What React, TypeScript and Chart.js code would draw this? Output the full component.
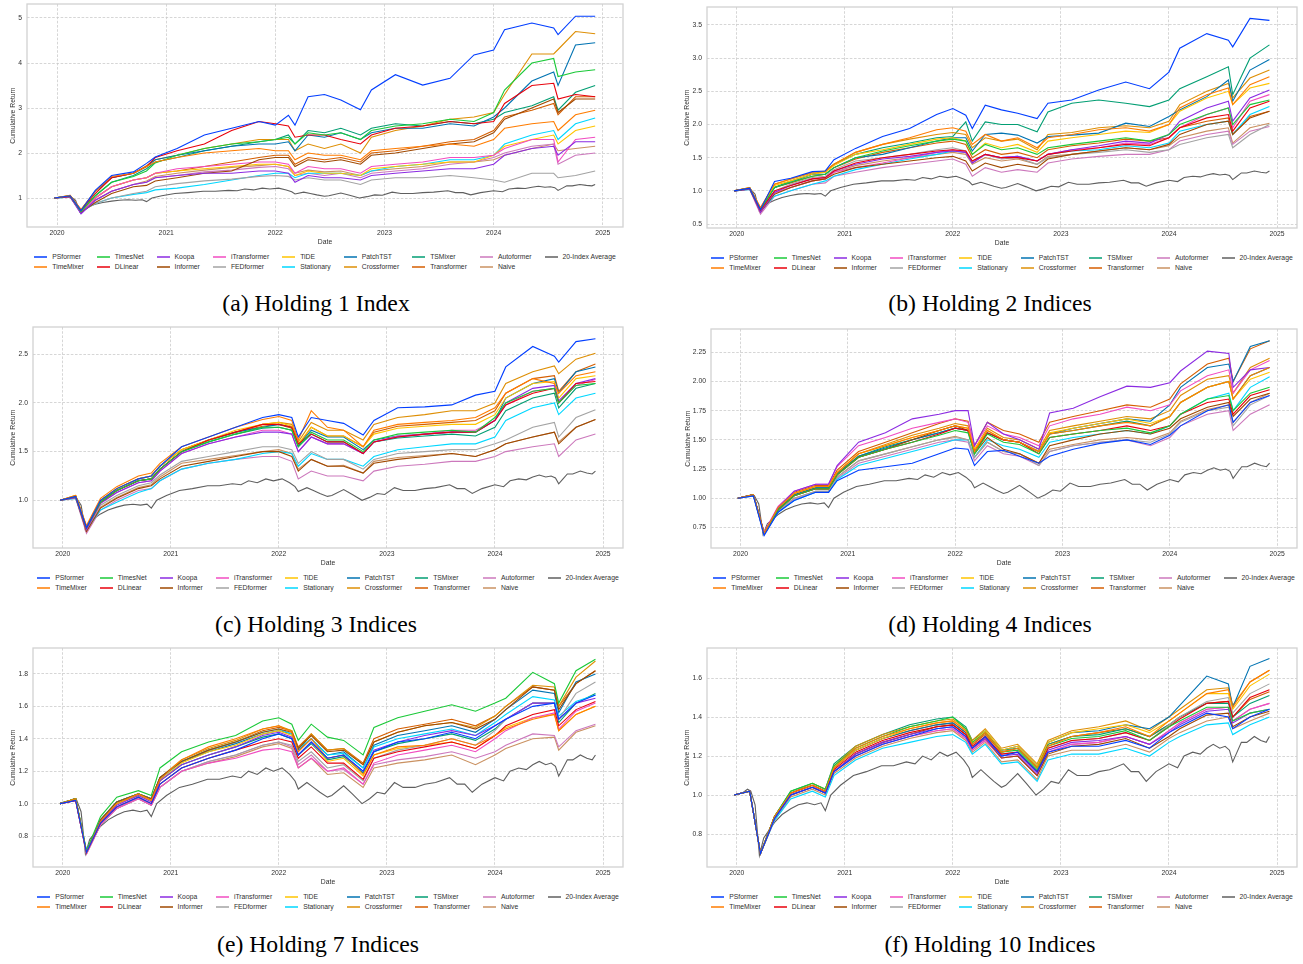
import React, { useEffect, useRef } from "react";
import { Chart, registerables } from "chart.js";
Chart.register(...registerables);

// ---------------- data ----------------
const T = [2019.975, 2020.12, 2020.22, 2020.35, 2020.5, 2020.7, 2020.82, 2020.9, 2021.1, 2021.35, 2021.6, 2021.85, 2022.0, 2022.12, 2022.18, 2022.3, 2022.45, 2022.6, 2022.78, 2022.88, 2023.1, 2023.35, 2023.6, 2023.82, 2024.0, 2024.1, 2024.35, 2024.55, 2024.59, 2024.75, 2024.93];

const MODELS = ["PSformer", "TimeMixer", "TimesNet", "DLinear", "Koopa", "Informer", "iTransformer", "FEDformer", "TiDE", "Stationary", "PatchTST", "Crossformer", "TSMixer", "Transformer", "Autoformer", "Naive", "20-Index Average"];
const COLORS = ["#023eff", "#ff7c00", "#1ac938", "#e8000b", "#8b2be2", "#9f4800", "#f14cc1", "#a3a3a3", "#ffc400", "#00d7ff", "#0173b2", "#de8f05", "#029e73", "#d55e00", "#cc78bc", "#ca9161", "#5f5f5f"];

const X_TICKS = [2020, 2021, 2022, 2023, 2024, 2025];
const X_TICK_LABELS = ["2020", "2021", "2022", "2023", "2024", "2025"];

const Y1_TICKS = [1, 2, 3, 4, 5];
const Y1_LABELS = ["1", "2", "3", "4", "5"];
const Y2_TICKS = [0.5, 1.0, 1.5, 2.0, 2.5, 3.0, 3.5];
const Y2_LABELS = ["0.5", "1.0", "1.5", "2.0", "2.5", "3.0", "3.5"];
const Y3_TICKS = [1.0, 1.5, 2.0, 2.5];
const Y3_LABELS = ["1.0", "1.5", "2.0", "2.5"];
const Y4_TICKS = [0.75, 1.0, 1.25, 1.5, 1.75, 2.0, 2.25];
const Y4_LABELS = ["0.75", "1.00", "1.25", "1.50", "1.75", "2.00", "2.25"];
const Y7_TICKS = [0.8, 1.0, 1.2, 1.4, 1.6, 1.8];
const Y7_LABELS = ["0.8", "1.0", "1.2", "1.4", "1.6", "1.8"];
const Y10_TICKS = [0.8, 1.0, 1.2, 1.4, 1.6];
const Y10_LABELS = ["0.8", "1.0", "1.2", "1.4", "1.6"];

// 20-Index Average (same benchmark in every panel), read on its own finer date grid
const T_INDEX = [2019.975, 2020.05, 2020.1, 2020.13, 2020.17, 2020.21, 2020.25, 2020.3, 2020.35, 2020.42, 2020.5, 2020.57, 2020.65, 2020.72, 2020.78, 2020.82, 2020.87, 2020.96, 2021.08, 2021.2, 2021.34, 2021.45, 2021.57, 2021.65, 2021.72, 2021.8, 2021.88, 2021.95, 2022.03, 2022.1, 2022.15, 2022.18, 2022.26, 2022.32, 2022.38, 2022.45, 2022.49, 2022.6, 2022.68, 2022.77, 2022.84, 2022.91, 2022.98, 2023.07, 2023.15, 2023.26, 2023.35, 2023.45, 2023.58, 2023.65, 2023.72, 2023.79, 2023.88, 2024.0, 2024.08, 2024.14, 2024.22, 2024.29, 2024.35, 2024.41, 2024.47, 2024.52, 2024.56, 2024.59, 2024.63, 2024.67, 2024.72, 2024.79, 2024.85, 2024.9, 2024.93];
const INDEX_AVG = [1.0, 1.01, 1.03, 1.02, 0.95, 0.69, 0.78, 0.82, 0.86, 0.9, 0.93, 0.95, 0.96, 0.95, 0.96, 0.92, 1.0, 1.05, 1.1, 1.12, 1.15, 1.15, 1.17, 1.16, 1.2, 1.18, 1.22, 1.2, 1.22, 1.18, 1.14, 1.09, 1.13, 1.1, 1.07, 1.04, 1.05, 1.11, 1.06, 1.0, 1.03, 1.07, 1.06, 1.13, 1.1, 1.1, 1.12, 1.13, 1.16, 1.12, 1.12, 1.07, 1.12, 1.16, 1.14, 1.2, 1.22, 1.21, 1.24, 1.26, 1.24, 1.25, 1.23, 1.17, 1.22, 1.27, 1.27, 1.3, 1.28, 1.27, 1.3];

// (a) Holding 1 Index
const H1_PSformer = [1.0, 1.05, 0.72, 1.17, 1.5, 1.58, 1.77, 1.91, 2.1, 2.4, 2.55, 2.7, 2.62, 2.84, 2.62, 3.25, 3.3, 3.18, 2.96, 3.4, 3.74, 3.51, 3.66, 4.18, 4.29, 4.74, 4.89, 4.78, 4.63, 5.04, 5.04];
const H1_TimeMixer = [1.0, 1.06, 0.75, 1.15, 1.48, 1.55, 1.7, 1.8, 1.9, 2.0, 2.05, 2.1, 2.05, 2.05, 1.85, 2.0, 1.95, 1.95, 1.85, 2.05, 2.1, 2.15, 2.2, 2.15, 2.3, 2.55, 2.65, 2.7, 2.5, 2.85, 2.95];
const H1_TimesNet = [1.0, 1.05, 0.7, 1.05, 1.35, 1.48, 1.6, 1.78, 1.95, 2.1, 2.2, 2.25, 2.3, 2.35, 2.2, 2.45, 2.4, 2.45, 2.3, 2.5, 2.6, 2.65, 2.75, 2.7, 2.9, 3.4, 4.0, 4.1, 3.7, 3.8, 3.85];
const H1_DLinear = [1.0, 1.04, 0.72, 1.1, 1.45, 1.55, 1.7, 1.9, 2.05, 2.2, 2.5, 2.7, 2.65, 2.6, 2.35, 2.4, 2.4, 2.3, 2.2, 2.4, 2.55, 2.6, 2.7, 2.65, 2.7, 3.1, 3.5, 3.55, 3.2, 3.3, 3.25];
const H1_Koopa = [1.0, 1.03, 0.65, 0.95, 1.15, 1.3, 1.35, 1.45, 1.5, 1.55, 1.55, 1.6, 1.6, 1.55, 1.35, 1.5, 1.45, 1.45, 1.4, 1.5, 1.55, 1.6, 1.65, 1.65, 1.75, 1.95, 2.1, 2.15, 1.95, 2.25, 2.25];
const H1_Informer = [1.0, 1.03, 0.68, 0.9, 1.1, 1.25, 1.28, 1.38, 1.45, 1.55, 1.6, 1.85, 1.9, 1.9, 1.7, 1.85, 1.8, 1.85, 1.75, 1.95, 2.0, 2.1, 2.2, 2.25, 2.45, 2.75, 3.0, 3.2, 2.9, 3.2, 3.2];
const H1_iTransformer = [1.0, 1.04, 0.68, 1.0, 1.25, 1.4, 1.45, 1.55, 1.65, 1.7, 1.75, 1.8, 1.8, 1.75, 1.55, 1.7, 1.65, 1.65, 1.55, 1.7, 1.75, 1.8, 1.9, 1.9, 1.95, 2.1, 2.3, 2.3, 1.8, 2.3, 2.35];
const H1_FEDformer = [1.0, 1.02, 0.7, 0.88, 1.0, 1.1, 1.15, 1.25, 1.32, 1.38, 1.42, 1.48, 1.5, 1.48, 1.4, 1.45, 1.4, 1.4, 1.3, 1.4, 1.45, 1.45, 1.5, 1.45, 1.4, 1.35, 1.55, 1.55, 1.45, 1.5, 1.6];
const H1_TiDE = [1.0, 1.05, 0.72, 1.0, 1.25, 1.4, 1.45, 1.55, 1.6, 1.65, 1.7, 1.75, 1.75, 1.7, 1.5, 1.6, 1.55, 1.55, 1.5, 1.65, 1.7, 1.75, 1.8, 1.8, 1.95, 2.15, 2.3, 2.4, 2.2, 2.5, 2.6];
const H1_Stationary = [1.0, 1.02, 0.7, 0.88, 1.0, 1.08, 1.12, 1.18, 1.22, 1.3, 1.4, 1.5, 1.55, 1.55, 1.45, 1.55, 1.55, 1.55, 1.5, 1.6, 1.7, 1.75, 1.85, 1.85, 1.95, 2.2, 2.4, 2.5, 2.3, 2.65, 2.78];
const H1_PatchTST = [1.0, 1.05, 0.73, 1.15, 1.45, 1.55, 1.7, 1.85, 1.95, 2.05, 2.15, 2.2, 2.2, 2.25, 2.05, 2.4, 2.35, 2.45, 2.3, 2.45, 2.55, 2.55, 2.65, 2.6, 2.8, 3.0, 3.6, 3.8, 3.5, 4.4, 4.45];
const H1_Crossformer = [1.0, 1.06, 0.73, 1.15, 1.45, 1.55, 1.72, 1.85, 1.95, 2.1, 2.2, 2.3, 2.3, 2.3, 2.05, 2.2, 2.1, 2.2, 2.0, 2.35, 2.5, 2.6, 2.75, 2.8, 2.9, 3.3, 4.2, 4.2, 4.3, 4.7, 4.65];
const H1_TSMixer = [1.0, 1.04, 0.7, 1.05, 1.35, 1.5, 1.65, 1.8, 1.9, 2.05, 2.15, 2.25, 2.3, 2.4, 2.2, 2.5, 2.45, 2.55, 2.4, 2.55, 2.65, 2.6, 2.7, 2.65, 2.75, 2.9, 3.05, 3.25, 2.95, 3.35, 3.5];
const H1_Transformer = [1.0, 1.04, 0.7, 1.0, 1.25, 1.4, 1.45, 1.55, 1.6, 1.7, 1.8, 1.9, 1.95, 1.95, 1.75, 1.9, 1.85, 1.9, 1.8, 2.0, 2.05, 2.15, 2.25, 2.3, 2.5, 2.8, 2.95, 3.1, 2.85, 3.25, 3.25];
const H1_Autoformer = [1.0, 1.03, 0.66, 0.95, 1.15, 1.3, 1.35, 1.45, 1.5, 1.58, 1.62, 1.68, 1.7, 1.65, 1.5, 1.55, 1.5, 1.55, 1.45, 1.55, 1.6, 1.65, 1.75, 1.8, 1.9, 2.0, 2.15, 2.2, 1.75, 1.95, 2.0];
const H1_Naive = [1.0, 1.03, 0.68, 0.95, 1.15, 1.3, 1.38, 1.48, 1.55, 1.62, 1.68, 1.72, 1.75, 1.7, 1.55, 1.62, 1.58, 1.6, 1.5, 1.6, 1.65, 1.7, 1.8, 1.8, 1.85, 1.95, 2.1, 2.2, 2.05, 2.1, 2.15];

// (b) Holding 2 Indices
const H2_PSformer = [1.0, 1.04, 0.72, 1.14, 1.19, 1.29, 1.3, 1.47, 1.64, 1.82, 1.94, 2.15, 2.24, 2.14, 1.94, 2.29, 2.22, 2.17, 2.09, 2.32, 2.37, 2.52, 2.64, 2.54, 2.79, 3.15, 3.37, 3.27, 3.17, 3.6, 3.57];
const H2_TimeMixer = [1.0, 1.05, 0.75, 1.1, 1.18, 1.28, 1.3, 1.4, 1.58, 1.7, 1.8, 1.92, 1.95, 1.9, 1.7, 1.85, 1.75, 1.8, 1.65, 1.8, 1.85, 1.92, 1.95, 1.9, 2.0, 2.25, 2.45, 2.55, 2.3, 2.6, 2.72];
const H2_TimesNet = [1.0, 1.04, 0.72, 1.05, 1.13, 1.22, 1.25, 1.35, 1.5, 1.6, 1.68, 1.75, 1.78, 1.75, 1.55, 1.7, 1.62, 1.65, 1.55, 1.65, 1.7, 1.75, 1.8, 1.75, 1.85, 2.0, 2.15, 2.25, 2.0, 2.3, 2.37];
const H2_DLinear = [1.0, 1.04, 0.71, 1.0, 1.08, 1.18, 1.2, 1.3, 1.42, 1.5, 1.55, 1.6, 1.62, 1.6, 1.45, 1.55, 1.5, 1.5, 1.45, 1.55, 1.6, 1.65, 1.7, 1.68, 1.8, 1.95, 2.1, 2.15, 1.9, 2.25, 2.35];
const H2_Koopa = [1.0, 1.03, 0.68, 0.98, 1.08, 1.18, 1.2, 1.3, 1.4, 1.48, 1.52, 1.58, 1.6, 1.58, 1.42, 1.55, 1.5, 1.52, 1.45, 1.55, 1.62, 1.68, 1.75, 1.72, 1.85, 2.05, 2.25, 2.35, 2.05, 2.4, 2.52];
const H2_Informer = [1.0, 1.03, 0.68, 0.95, 1.05, 1.15, 1.18, 1.25, 1.35, 1.4, 1.45, 1.5, 1.52, 1.45, 1.3, 1.42, 1.35, 1.4, 1.35, 1.48, 1.55, 1.6, 1.65, 1.62, 1.7, 1.85, 2.0, 2.05, 1.85, 2.1, 2.2];
const H2_iTransformer = [1.0, 1.03, 0.68, 0.97, 1.05, 1.15, 1.18, 1.28, 1.35, 1.42, 1.5, 1.58, 1.62, 1.58, 1.42, 1.55, 1.5, 1.52, 1.45, 1.55, 1.62, 1.65, 1.72, 1.7, 1.8, 1.95, 2.15, 2.25, 1.95, 2.35, 2.45];
const H2_FEDformer = [1.0, 1.03, 0.7, 1.0, 1.1, 1.2, 1.22, 1.32, 1.45, 1.5, 1.55, 1.62, 1.65, 1.6, 1.45, 1.55, 1.48, 1.5, 1.4, 1.5, 1.55, 1.58, 1.62, 1.58, 1.62, 1.7, 1.8, 1.85, 1.65, 1.85, 2.0];
const H2_TiDE = [1.0, 1.05, 0.73, 1.08, 1.15, 1.25, 1.28, 1.38, 1.55, 1.62, 1.7, 1.78, 1.8, 1.75, 1.55, 1.72, 1.65, 1.7, 1.58, 1.75, 1.8, 1.85, 1.9, 1.88, 2.0, 2.2, 2.4, 2.5, 2.3, 2.55, 2.62];
const H2_Stationary = [1.0, 1.02, 0.7, 0.92, 1.0, 1.1, 1.15, 1.22, 1.32, 1.4, 1.48, 1.55, 1.6, 1.58, 1.42, 1.55, 1.5, 1.52, 1.45, 1.55, 1.6, 1.62, 1.68, 1.65, 1.72, 1.9, 2.0, 2.05, 1.85, 2.15, 2.27];
const H2_PatchTST = [1.0, 1.04, 0.72, 1.05, 1.13, 1.25, 1.25, 1.35, 1.5, 1.55, 1.65, 1.75, 1.8, 1.8, 1.6, 1.85, 1.87, 1.84, 1.72, 1.82, 1.84, 1.87, 2.02, 1.97, 2.12, 2.22, 2.42, 2.67, 2.35, 2.82, 2.98];
const H2_Crossformer = [1.0, 1.05, 0.74, 1.1, 1.18, 1.27, 1.28, 1.4, 1.58, 1.7, 1.78, 1.85, 1.88, 1.85, 1.65, 1.8, 1.75, 1.78, 1.62, 1.85, 1.88, 1.95, 1.98, 1.95, 2.05, 2.3, 2.5, 2.62, 2.4, 2.7, 2.82];
const H2_TSMixer = [1.0, 1.04, 0.72, 1.05, 1.15, 1.25, 1.3, 1.4, 1.55, 1.65, 1.72, 1.8, 1.82, 2.04, 1.75, 2.04, 2.0, 2.0, 1.89, 2.19, 2.32, 2.37, 2.32, 2.27, 2.37, 2.54, 2.72, 2.87, 2.45, 3.0, 3.2];
const H2_Transformer = [1.0, 1.04, 0.72, 1.05, 1.12, 1.22, 1.25, 1.35, 1.48, 1.58, 1.65, 1.72, 1.75, 1.7, 1.5, 1.62, 1.55, 1.58, 1.5, 1.62, 1.68, 1.72, 1.78, 1.75, 1.8, 1.95, 2.05, 2.1, 1.85, 2.12, 2.2];
const H2_Autoformer = [1.0, 1.02, 0.65, 0.92, 1.0, 1.1, 1.12, 1.22, 1.28, 1.35, 1.4, 1.45, 1.48, 1.4, 1.22, 1.35, 1.28, 1.32, 1.28, 1.42, 1.48, 1.52, 1.55, 1.55, 1.62, 1.75, 1.85, 1.9, 1.7, 1.9, 1.97];
const H2_Naive = [1.0, 1.03, 0.68, 0.97, 1.05, 1.15, 1.18, 1.28, 1.38, 1.45, 1.5, 1.55, 1.58, 1.55, 1.4, 1.5, 1.45, 1.48, 1.4, 1.52, 1.55, 1.6, 1.65, 1.62, 1.68, 1.8, 1.9, 1.95, 1.72, 1.95, 2.02];

// (c) Holding 3 Indices
const H3_PSformer = [1.0, 1.04, 0.72, 1.0, 1.12, 1.22, 1.25, 1.35, 1.55, 1.65, 1.75, 1.85, 1.88, 1.85, 1.65, 1.85, 1.82, 1.79, 1.67, 1.82, 1.95, 1.96, 1.98, 2.08, 2.12, 2.37, 2.58, 2.48, 2.42, 2.63, 2.66];
const H3_TimeMixer = [1.0, 1.05, 0.74, 1.02, 1.14, 1.25, 1.28, 1.38, 1.55, 1.65, 1.75, 1.83, 1.86, 1.82, 1.62, 1.92, 1.75, 1.72, 1.55, 1.72, 1.78, 1.8, 1.82, 1.85, 1.95, 2.1, 2.25, 2.2, 2.1, 2.28, 2.32];
const H3_TimesNet = [1.0, 1.04, 0.72, 0.98, 1.1, 1.2, 1.22, 1.32, 1.5, 1.6, 1.68, 1.75, 1.75, 1.72, 1.55, 1.7, 1.62, 1.62, 1.5, 1.62, 1.68, 1.7, 1.72, 1.7, 1.85, 2.0, 2.12, 2.15, 2.0, 2.18, 2.2];
const H3_DLinear = [1.0, 1.04, 0.72, 0.98, 1.1, 1.2, 1.22, 1.32, 1.5, 1.62, 1.7, 1.78, 1.78, 1.75, 1.58, 1.68, 1.6, 1.6, 1.48, 1.6, 1.65, 1.68, 1.7, 1.7, 1.82, 1.98, 2.1, 2.15, 2.0, 2.2, 2.22];
const H3_Koopa = [1.0, 1.03, 0.7, 0.97, 1.08, 1.18, 1.2, 1.3, 1.48, 1.58, 1.65, 1.7, 1.7, 1.68, 1.5, 1.65, 1.58, 1.58, 1.48, 1.6, 1.65, 1.68, 1.7, 1.7, 1.82, 2.0, 2.15, 2.18, 2.02, 2.2, 2.25];
const H3_Informer = [1.0, 1.03, 0.68, 0.92, 1.02, 1.12, 1.15, 1.22, 1.35, 1.4, 1.45, 1.5, 1.5, 1.45, 1.3, 1.42, 1.35, 1.35, 1.28, 1.38, 1.42, 1.45, 1.48, 1.45, 1.52, 1.58, 1.65, 1.7, 1.58, 1.75, 1.83];
const H3_iTransformer = [1.0, 1.03, 0.7, 0.97, 1.08, 1.18, 1.2, 1.3, 1.48, 1.58, 1.65, 1.72, 1.72, 1.68, 1.5, 1.65, 1.58, 1.58, 1.48, 1.6, 1.66, 1.68, 1.72, 1.72, 1.82, 1.98, 2.12, 2.15, 2.0, 2.18, 2.24];
const H3_FEDformer = [1.0, 1.03, 0.7, 0.95, 1.05, 1.15, 1.18, 1.26, 1.4, 1.45, 1.5, 1.55, 1.55, 1.52, 1.38, 1.5, 1.42, 1.42, 1.32, 1.42, 1.48, 1.5, 1.52, 1.52, 1.58, 1.62, 1.75, 1.8, 1.65, 1.85, 1.93];
const H3_TiDE = [1.0, 1.05, 0.73, 1.0, 1.12, 1.22, 1.25, 1.35, 1.52, 1.62, 1.72, 1.78, 1.8, 1.76, 1.58, 1.75, 1.66, 1.66, 1.55, 1.68, 1.74, 1.76, 1.78, 1.78, 1.88, 2.05, 2.2, 2.22, 2.05, 2.25, 2.28];
const H3_Stationary = [1.0, 1.02, 0.7, 0.9, 0.98, 1.08, 1.12, 1.2, 1.32, 1.38, 1.42, 1.48, 1.5, 1.48, 1.35, 1.48, 1.42, 1.42, 1.35, 1.45, 1.52, 1.55, 1.58, 1.58, 1.65, 1.82, 1.95, 2.0, 1.88, 2.05, 2.1];
const H3_PatchTST = [1.0, 1.04, 0.72, 1.0, 1.1, 1.2, 1.22, 1.32, 1.5, 1.62, 1.7, 1.75, 1.78, 1.75, 1.56, 1.72, 1.65, 1.65, 1.52, 1.62, 1.66, 1.68, 1.7, 1.7, 1.82, 2.05, 2.2, 2.25, 2.1, 2.32, 2.37];
const H3_Crossformer = [1.0, 1.05, 0.73, 1.0, 1.12, 1.22, 1.25, 1.35, 1.52, 1.62, 1.7, 1.78, 1.8, 1.78, 1.6, 1.8, 1.72, 1.72, 1.62, 1.78, 1.85, 1.88, 1.92, 1.92, 2.0, 2.2, 2.32, 2.38, 2.3, 2.45, 2.51];
const H3_TSMixer = [1.0, 1.04, 0.72, 0.98, 1.1, 1.2, 1.22, 1.32, 1.5, 1.6, 1.68, 1.74, 1.75, 1.72, 1.55, 1.68, 1.6, 1.6, 1.48, 1.6, 1.64, 1.66, 1.68, 1.66, 1.75, 1.92, 2.05, 2.1, 1.95, 2.15, 2.2];
const H3_Transformer = [1.0, 1.04, 0.72, 1.0, 1.12, 1.22, 1.25, 1.35, 1.52, 1.62, 1.7, 1.76, 1.78, 1.74, 1.56, 1.75, 1.66, 1.66, 1.55, 1.7, 1.76, 1.78, 1.8, 1.82, 1.92, 2.1, 2.25, 2.28, 2.12, 2.32, 2.4];
const H3_Autoformer = [1.0, 1.02, 0.66, 0.9, 1.0, 1.1, 1.12, 1.2, 1.32, 1.38, 1.42, 1.45, 1.45, 1.4, 1.22, 1.3, 1.25, 1.25, 1.2, 1.3, 1.35, 1.37, 1.4, 1.4, 1.45, 1.5, 1.55, 1.58, 1.45, 1.62, 1.68];
const H3_Naive = [1.0, 1.03, 0.68, 0.93, 1.03, 1.13, 1.16, 1.24, 1.38, 1.42, 1.46, 1.5, 1.52, 1.48, 1.32, 1.42, 1.35, 1.36, 1.28, 1.4, 1.44, 1.46, 1.48, 1.45, 1.52, 1.58, 1.65, 1.7, 1.6, 1.75, 1.83];

// (d) Holding 4 Indices
const H4_PSformer = [1.0, 1.02, 0.68, 0.88, 0.98, 1.05, 1.05, 1.15, 1.24, 1.27, 1.3, 1.38, 1.43, 1.42, 1.28, 1.4, 1.41, 1.36, 1.3, 1.36, 1.42, 1.47, 1.5, 1.46, 1.54, 1.62, 1.75, 1.8, 1.65, 1.82, 1.88];
const H4_TimeMixer = [1.0, 1.03, 0.7, 0.92, 1.04, 1.1, 1.1, 1.22, 1.38, 1.45, 1.52, 1.58, 1.62, 1.6, 1.4, 1.58, 1.5, 1.48, 1.4, 1.55, 1.58, 1.62, 1.65, 1.62, 1.7, 1.82, 1.95, 2.0, 1.85, 2.05, 2.12];
const H4_TimesNet = [1.0, 1.03, 0.7, 0.9, 1.02, 1.08, 1.08, 1.2, 1.35, 1.42, 1.48, 1.54, 1.58, 1.56, 1.38, 1.55, 1.48, 1.46, 1.38, 1.52, 1.55, 1.58, 1.6, 1.56, 1.62, 1.72, 1.85, 1.88, 1.75, 1.9, 1.95];
const H4_DLinear = [1.0, 1.03, 0.7, 0.9, 1.02, 1.08, 1.08, 1.2, 1.35, 1.42, 1.48, 1.55, 1.6, 1.58, 1.4, 1.56, 1.5, 1.48, 1.38, 1.52, 1.55, 1.58, 1.62, 1.58, 1.62, 1.72, 1.82, 1.85, 1.72, 1.88, 1.93];
const H4_Koopa = [1.0, 1.03, 0.7, 0.92, 1.06, 1.12, 1.12, 1.28, 1.48, 1.56, 1.68, 1.72, 1.75, 1.75, 1.45, 1.65, 1.55, 1.5, 1.42, 1.73, 1.77, 1.87, 1.96, 1.95, 1.99, 2.09, 2.26, 2.24, 1.95, 2.1, 2.12];
const H4_Informer = [1.0, 1.03, 0.7, 0.9, 1.02, 1.08, 1.08, 1.2, 1.35, 1.42, 1.5, 1.58, 1.62, 1.58, 1.38, 1.52, 1.42, 1.38, 1.3, 1.45, 1.5, 1.55, 1.58, 1.55, 1.6, 1.68, 1.78, 1.82, 1.7, 1.85, 1.9];
const H4_iTransformer = [1.0, 1.03, 0.71, 0.93, 1.06, 1.12, 1.12, 1.27, 1.45, 1.52, 1.6, 1.65, 1.68, 1.65, 1.45, 1.62, 1.55, 1.52, 1.45, 1.62, 1.68, 1.72, 1.78, 1.75, 1.8, 1.92, 2.05, 2.1, 1.9, 2.1, 2.18];
const H4_FEDformer = [1.0, 1.03, 0.69, 0.89, 1.0, 1.06, 1.06, 1.18, 1.32, 1.38, 1.44, 1.5, 1.52, 1.5, 1.35, 1.48, 1.4, 1.38, 1.28, 1.4, 1.45, 1.48, 1.5, 1.48, 1.55, 1.65, 1.75, 1.78, 1.62, 1.8, 1.88];
const H4_TiDE = [1.0, 1.03, 0.7, 0.92, 1.04, 1.1, 1.1, 1.22, 1.38, 1.45, 1.52, 1.58, 1.62, 1.6, 1.42, 1.58, 1.5, 1.48, 1.4, 1.56, 1.6, 1.64, 1.68, 1.64, 1.7, 1.82, 1.95, 2.0, 1.85, 2.02, 2.08];
const H4_Stationary = [1.0, 1.02, 0.69, 0.88, 0.98, 1.05, 1.05, 1.16, 1.28, 1.34, 1.4, 1.46, 1.5, 1.5, 1.35, 1.5, 1.45, 1.42, 1.35, 1.48, 1.52, 1.55, 1.58, 1.55, 1.62, 1.72, 1.85, 1.9, 1.75, 1.95, 2.04];
const H4_PatchTST = [1.0, 1.03, 0.7, 0.91, 1.03, 1.09, 1.09, 1.21, 1.36, 1.43, 1.5, 1.56, 1.6, 1.58, 1.4, 1.56, 1.5, 1.48, 1.4, 1.55, 1.6, 1.64, 1.68, 1.66, 1.8, 1.95, 2.12, 2.15, 2.0, 2.3, 2.35];
const H4_Crossformer = [1.0, 1.03, 0.7, 0.92, 1.04, 1.1, 1.1, 1.22, 1.38, 1.46, 1.54, 1.6, 1.64, 1.62, 1.42, 1.6, 1.52, 1.5, 1.42, 1.58, 1.62, 1.66, 1.7, 1.68, 1.75, 1.88, 2.02, 2.05, 1.9, 2.12, 2.2];
const H4_TSMixer = [1.0, 1.03, 0.7, 0.91, 1.03, 1.09, 1.09, 1.21, 1.36, 1.44, 1.5, 1.56, 1.6, 1.58, 1.4, 1.56, 1.5, 1.48, 1.4, 1.55, 1.58, 1.62, 1.66, 1.62, 1.7, 1.82, 1.95, 2.0, 1.85, 2.05, 2.12];
const H4_Transformer = [1.0, 1.03, 0.7, 0.92, 1.05, 1.11, 1.11, 1.24, 1.4, 1.48, 1.56, 1.64, 1.68, 1.66, 1.45, 1.65, 1.58, 1.55, 1.48, 1.65, 1.7, 1.75, 1.8, 1.78, 1.85, 1.98, 2.15, 2.2, 2.0, 2.28, 2.35];
const H4_Autoformer = [1.0, 1.02, 0.69, 0.88, 0.99, 1.05, 1.05, 1.17, 1.3, 1.36, 1.42, 1.48, 1.5, 1.48, 1.32, 1.45, 1.38, 1.36, 1.28, 1.4, 1.45, 1.48, 1.5, 1.45, 1.52, 1.62, 1.72, 1.75, 1.58, 1.72, 1.8];
const H4_Naive = [1.0, 1.03, 0.69, 0.89, 1.0, 1.06, 1.06, 1.18, 1.32, 1.38, 1.44, 1.5, 1.53, 1.5, 1.35, 1.48, 1.4, 1.38, 1.3, 1.42, 1.46, 1.5, 1.52, 1.5, 1.56, 1.66, 1.76, 1.8, 1.65, 1.82, 1.9];

// (e) Holding 7 Indices
const H7_PSformer = [1.0, 1.02, 0.7, 0.88, 0.98, 1.04, 1.0, 1.12, 1.22, 1.28, 1.33, 1.4, 1.43, 1.4, 1.3, 1.38, 1.28, 1.3, 1.2, 1.32, 1.38, 1.4, 1.44, 1.4, 1.48, 1.52, 1.6, 1.62, 1.52, 1.62, 1.67];
const H7_TimeMixer = [1.0, 1.03, 0.7, 0.89, 1.0, 1.06, 1.02, 1.15, 1.27, 1.35, 1.4, 1.46, 1.48, 1.44, 1.32, 1.4, 1.28, 1.3, 1.18, 1.3, 1.35, 1.36, 1.4, 1.36, 1.42, 1.46, 1.52, 1.55, 1.45, 1.55, 1.6];
const H7_TimesNet = [1.0, 1.03, 0.71, 0.92, 1.04, 1.08, 1.05, 1.22, 1.32, 1.38, 1.42, 1.51, 1.53, 1.49, 1.39, 1.49, 1.41, 1.39, 1.3, 1.47, 1.53, 1.57, 1.61, 1.57, 1.62, 1.65, 1.81, 1.74, 1.62, 1.82, 1.89];
const H7_DLinear = [1.0, 1.02, 0.7, 0.88, 0.98, 1.04, 1.0, 1.12, 1.22, 1.28, 1.33, 1.38, 1.4, 1.38, 1.28, 1.35, 1.25, 1.25, 1.15, 1.28, 1.32, 1.35, 1.38, 1.34, 1.42, 1.48, 1.55, 1.58, 1.48, 1.58, 1.63];
const H7_Koopa = [1.0, 1.02, 0.7, 0.89, 0.99, 1.05, 1.01, 1.14, 1.24, 1.3, 1.35, 1.42, 1.44, 1.41, 1.3, 1.38, 1.28, 1.3, 1.2, 1.33, 1.38, 1.42, 1.45, 1.42, 1.48, 1.52, 1.62, 1.62, 1.52, 1.62, 1.65];
const H7_Informer = [1.0, 1.03, 0.7, 0.9, 1.01, 1.06, 1.03, 1.16, 1.26, 1.33, 1.38, 1.44, 1.46, 1.44, 1.34, 1.42, 1.32, 1.33, 1.24, 1.38, 1.44, 1.48, 1.5, 1.46, 1.52, 1.58, 1.72, 1.7, 1.58, 1.74, 1.82];
const H7_iTransformer = [1.0, 1.02, 0.69, 0.87, 0.97, 1.03, 0.99, 1.1, 1.2, 1.25, 1.28, 1.33, 1.34, 1.32, 1.22, 1.28, 1.2, 1.22, 1.12, 1.25, 1.3, 1.33, 1.36, 1.32, 1.4, 1.45, 1.53, 1.56, 1.46, 1.57, 1.62];
const H7_FEDformer = [1.0, 1.02, 0.69, 0.87, 0.97, 1.03, 0.99, 1.1, 1.2, 1.26, 1.3, 1.36, 1.38, 1.36, 1.26, 1.32, 1.22, 1.24, 1.14, 1.28, 1.33, 1.36, 1.4, 1.36, 1.45, 1.52, 1.62, 1.62, 1.52, 1.68, 1.75];
const H7_TiDE = [1.0, 1.03, 0.7, 0.89, 1.0, 1.05, 1.02, 1.14, 1.25, 1.32, 1.36, 1.43, 1.45, 1.42, 1.3, 1.38, 1.26, 1.28, 1.17, 1.3, 1.34, 1.36, 1.38, 1.34, 1.42, 1.47, 1.53, 1.55, 1.45, 1.55, 1.6];
const H7_Stationary = [1.0, 1.03, 0.71, 0.9, 1.01, 1.06, 1.03, 1.15, 1.26, 1.33, 1.38, 1.44, 1.46, 1.43, 1.34, 1.4, 1.3, 1.31, 1.22, 1.35, 1.4, 1.43, 1.46, 1.42, 1.5, 1.55, 1.66, 1.64, 1.54, 1.63, 1.67];
const H7_PatchTST = [1.0, 1.03, 0.7, 0.9, 1.01, 1.06, 1.03, 1.16, 1.26, 1.32, 1.37, 1.43, 1.45, 1.43, 1.33, 1.4, 1.3, 1.32, 1.22, 1.36, 1.42, 1.45, 1.48, 1.44, 1.52, 1.58, 1.7, 1.68, 1.56, 1.75, 1.8];
const H7_Crossformer = [1.0, 1.03, 0.7, 0.9, 1.01, 1.06, 1.03, 1.16, 1.27, 1.34, 1.39, 1.46, 1.48, 1.45, 1.34, 1.43, 1.33, 1.34, 1.24, 1.38, 1.44, 1.48, 1.5, 1.47, 1.54, 1.6, 1.73, 1.72, 1.6, 1.78, 1.88];
const H7_TSMixer = [1.0, 1.03, 0.7, 0.89, 1.0, 1.05, 1.02, 1.14, 1.24, 1.3, 1.35, 1.41, 1.43, 1.4, 1.3, 1.37, 1.27, 1.29, 1.19, 1.32, 1.37, 1.4, 1.43, 1.39, 1.46, 1.52, 1.62, 1.62, 1.5, 1.62, 1.68];
const H7_Transformer = [1.0, 1.03, 0.7, 0.9, 1.01, 1.06, 1.03, 1.16, 1.26, 1.33, 1.38, 1.45, 1.47, 1.45, 1.35, 1.43, 1.33, 1.34, 1.25, 1.4, 1.46, 1.49, 1.52, 1.48, 1.54, 1.6, 1.72, 1.7, 1.6, 1.74, 1.82];
const H7_Autoformer = [1.0, 1.02, 0.69, 0.87, 0.97, 1.03, 0.99, 1.1, 1.2, 1.26, 1.3, 1.36, 1.38, 1.35, 1.24, 1.3, 1.2, 1.21, 1.12, 1.24, 1.27, 1.29, 1.32, 1.28, 1.32, 1.36, 1.43, 1.42, 1.35, 1.45, 1.49];
const H7_Naive = [1.0, 1.02, 0.69, 0.87, 0.97, 1.03, 0.99, 1.1, 1.2, 1.25, 1.29, 1.35, 1.37, 1.34, 1.22, 1.28, 1.18, 1.19, 1.1, 1.22, 1.25, 1.27, 1.3, 1.24, 1.3, 1.34, 1.4, 1.41, 1.33, 1.44, 1.48];

// (f) Holding 10 Indices
const H10_PSformer = [1.0, 1.02, 0.7, 0.88, 1.0, 1.04, 1.01, 1.12, 1.2, 1.26, 1.3, 1.34, 1.35, 1.3, 1.24, 1.3, 1.2, 1.22, 1.12, 1.22, 1.25, 1.25, 1.28, 1.24, 1.32, 1.35, 1.42, 1.4, 1.34, 1.4, 1.44];
const H10_TimeMixer = [1.0, 1.02, 0.7, 0.89, 1.01, 1.05, 1.02, 1.14, 1.24, 1.3, 1.34, 1.37, 1.38, 1.33, 1.26, 1.32, 1.22, 1.24, 1.14, 1.25, 1.3, 1.32, 1.35, 1.3, 1.38, 1.42, 1.52, 1.54, 1.45, 1.58, 1.64];
const H10_TimesNet = [1.0, 1.02, 0.7, 0.89, 1.02, 1.06, 1.03, 1.15, 1.24, 1.3, 1.35, 1.38, 1.4, 1.34, 1.27, 1.32, 1.22, 1.23, 1.13, 1.25, 1.29, 1.3, 1.33, 1.28, 1.35, 1.38, 1.45, 1.45, 1.38, 1.42, 1.44];
const H10_DLinear = [1.0, 1.02, 0.7, 0.89, 1.01, 1.05, 1.02, 1.13, 1.22, 1.28, 1.32, 1.35, 1.36, 1.31, 1.25, 1.3, 1.21, 1.22, 1.12, 1.24, 1.28, 1.29, 1.32, 1.28, 1.35, 1.39, 1.47, 1.48, 1.4, 1.5, 1.54];
const H10_Koopa = [1.0, 1.02, 0.7, 0.88, 1.0, 1.04, 1.01, 1.12, 1.21, 1.27, 1.31, 1.34, 1.35, 1.3, 1.24, 1.29, 1.2, 1.21, 1.11, 1.23, 1.27, 1.28, 1.3, 1.26, 1.32, 1.36, 1.43, 1.44, 1.37, 1.42, 1.44];
const H10_Informer = [1.0, 1.02, 0.7, 0.88, 1.0, 1.04, 1.01, 1.12, 1.21, 1.27, 1.31, 1.35, 1.36, 1.31, 1.24, 1.29, 1.19, 1.2, 1.1, 1.21, 1.25, 1.26, 1.29, 1.24, 1.3, 1.34, 1.41, 1.42, 1.35, 1.4, 1.43];
const H10_iTransformer = [1.0, 1.02, 0.7, 0.88, 1.0, 1.04, 1.01, 1.12, 1.2, 1.26, 1.3, 1.33, 1.34, 1.29, 1.23, 1.28, 1.19, 1.2, 1.1, 1.22, 1.26, 1.27, 1.3, 1.26, 1.33, 1.37, 1.44, 1.45, 1.38, 1.44, 1.47];
const H10_FEDformer = [1.0, 1.02, 0.7, 0.88, 1.0, 1.04, 1.01, 1.12, 1.21, 1.27, 1.31, 1.35, 1.36, 1.31, 1.24, 1.3, 1.21, 1.22, 1.12, 1.24, 1.28, 1.29, 1.32, 1.28, 1.36, 1.4, 1.48, 1.5, 1.42, 1.52, 1.57];
const H10_TiDE = [1.0, 1.02, 0.7, 0.89, 1.01, 1.05, 1.02, 1.14, 1.23, 1.29, 1.34, 1.37, 1.38, 1.33, 1.27, 1.33, 1.23, 1.25, 1.15, 1.27, 1.32, 1.34, 1.36, 1.32, 1.38, 1.42, 1.52, 1.52, 1.44, 1.56, 1.62];
const H10_Stationary = [1.0, 1.02, 0.7, 0.87, 0.98, 1.02, 0.99, 1.1, 1.18, 1.24, 1.27, 1.3, 1.31, 1.27, 1.21, 1.26, 1.16, 1.17, 1.07, 1.18, 1.21, 1.21, 1.24, 1.2, 1.27, 1.3, 1.36, 1.37, 1.31, 1.36, 1.4];
const H10_PatchTST = [1.0, 1.02, 0.7, 0.89, 1.01, 1.05, 1.02, 1.14, 1.23, 1.29, 1.33, 1.36, 1.37, 1.32, 1.26, 1.32, 1.23, 1.25, 1.15, 1.27, 1.32, 1.33, 1.36, 1.34, 1.4, 1.46, 1.61, 1.57, 1.45, 1.66, 1.7];
const H10_Crossformer = [1.0, 1.02, 0.7, 0.89, 1.01, 1.06, 1.03, 1.15, 1.25, 1.31, 1.35, 1.38, 1.39, 1.34, 1.28, 1.34, 1.24, 1.26, 1.16, 1.28, 1.33, 1.35, 1.38, 1.33, 1.4, 1.44, 1.54, 1.55, 1.46, 1.58, 1.64];
const H10_TSMixer = [1.0, 1.02, 0.7, 0.89, 1.02, 1.06, 1.03, 1.16, 1.25, 1.31, 1.36, 1.39, 1.4, 1.35, 1.28, 1.33, 1.23, 1.24, 1.14, 1.26, 1.3, 1.31, 1.34, 1.3, 1.36, 1.4, 1.47, 1.47, 1.4, 1.47, 1.51];
const H10_Transformer = [1.0, 1.02, 0.7, 0.89, 1.01, 1.05, 1.02, 1.14, 1.23, 1.29, 1.33, 1.36, 1.37, 1.32, 1.26, 1.31, 1.22, 1.24, 1.14, 1.26, 1.3, 1.32, 1.34, 1.3, 1.36, 1.4, 1.47, 1.48, 1.4, 1.49, 1.53];
const H10_Autoformer = [1.0, 1.02, 0.7, 0.88, 1.0, 1.04, 1.01, 1.12, 1.2, 1.26, 1.3, 1.33, 1.34, 1.29, 1.23, 1.28, 1.19, 1.2, 1.1, 1.22, 1.26, 1.27, 1.3, 1.26, 1.33, 1.37, 1.44, 1.45, 1.38, 1.44, 1.47];
const H10_Naive = [1.0, 1.02, 0.7, 0.87, 0.99, 1.03, 1.0, 1.11, 1.19, 1.25, 1.29, 1.32, 1.33, 1.28, 1.22, 1.27, 1.17, 1.18, 1.08, 1.2, 1.23, 1.23, 1.26, 1.22, 1.29, 1.32, 1.38, 1.4, 1.34, 1.38, 1.42];

const H1 = [H1_PSformer, H1_TimeMixer, H1_TimesNet, H1_DLinear, H1_Koopa, H1_Informer, H1_iTransformer, H1_FEDformer, H1_TiDE, H1_Stationary, H1_PatchTST, H1_Crossformer, H1_TSMixer, H1_Transformer, H1_Autoformer, H1_Naive, INDEX_AVG];
const H2 = [H2_PSformer, H2_TimeMixer, H2_TimesNet, H2_DLinear, H2_Koopa, H2_Informer, H2_iTransformer, H2_FEDformer, H2_TiDE, H2_Stationary, H2_PatchTST, H2_Crossformer, H2_TSMixer, H2_Transformer, H2_Autoformer, H2_Naive, INDEX_AVG];
const H3 = [H3_PSformer, H3_TimeMixer, H3_TimesNet, H3_DLinear, H3_Koopa, H3_Informer, H3_iTransformer, H3_FEDformer, H3_TiDE, H3_Stationary, H3_PatchTST, H3_Crossformer, H3_TSMixer, H3_Transformer, H3_Autoformer, H3_Naive, INDEX_AVG];
const H4 = [H4_PSformer, H4_TimeMixer, H4_TimesNet, H4_DLinear, H4_Koopa, H4_Informer, H4_iTransformer, H4_FEDformer, H4_TiDE, H4_Stationary, H4_PatchTST, H4_Crossformer, H4_TSMixer, H4_Transformer, H4_Autoformer, H4_Naive, INDEX_AVG];
const H7 = [H7_PSformer, H7_TimeMixer, H7_TimesNet, H7_DLinear, H7_Koopa, H7_Informer, H7_iTransformer, H7_FEDformer, H7_TiDE, H7_Stationary, H7_PatchTST, H7_Crossformer, H7_TSMixer, H7_Transformer, H7_Autoformer, H7_Naive, INDEX_AVG];
const H10 = [H10_PSformer, H10_TimeMixer, H10_TimesNet, H10_DLinear, H10_Koopa, H10_Informer, H10_iTransformer, H10_FEDformer, H10_TiDE, H10_Stationary, H10_PatchTST, H10_Crossformer, H10_TSMixer, H10_Transformer, H10_Autoformer, H10_Naive, INDEX_AVG];

// ---------------- layout ----------------
const SANS = '"Liberation Sans", Arial, Helvetica, sans-serif';
const SERIF = '"Liberation Serif", "Times New Roman", Times, serif';
const FS = 6.8;
const TEXT = "#303030";
const X_MIN = 2019.725;
const X_MAX = 2025.185;

type Panel = {
  caption: string; series: number[][]; yTicks: number[]; yLabels: string[];
  yMin: number; yMax: number; l: number; t: number; r: number; b: number;
  colX: number; yTitleX: number; capX: number; capY: number;
};

const PANELS: Panel[] = [
  { caption: "(a) Holding 1 Index", series: H1, yTicks: Y1_TICKS, yLabels: Y1_LABELS, yMin: 0.356, yMax: 5.311, l: 27, t: 4, r: 623, b: 227, colX: 0, yTitleX: 13.5, capX: 316, capY: 306 },
  { caption: "(b) Holding 2 Indices", series: H2, yTicks: Y2_TICKS, yLabels: Y2_LABELS, yMin: 0.44, yMax: 3.771, l: 707, t: 7, r: 1297, b: 228, colX: 653, yTitleX: 687, capX: 990, capY: 306 },
  { caption: "(c) Holding 3 Indices", series: H3, yTicks: Y3_TICKS, yLabels: Y3_LABELS, yMin: 0.51, yMax: 2.78, l: 33, t: 327, r: 623, b: 548, colX: 0, yTitleX: 13.5, capX: 316, capY: 627 },
  { caption: "(d) Holding 4 Indices", series: H4, yTicks: Y4_TICKS, yLabels: Y4_LABELS, yMin: 0.573, yMax: 2.45, l: 711, t: 329, r: 1297, b: 548, colX: 653, yTitleX: 688, capX: 990, capY: 627 },
  { caption: "(e) Holding 7 Indices", series: H7, yTicks: Y7_TICKS, yLabels: Y7_LABELS, yMin: 0.609, yMax: 1.96, l: 33, t: 648, r: 623, b: 867, colX: 0, yTitleX: 13.5, capX: 318, capY: 947 },
  { caption: "(f) Holding 10 Indices", series: H10, yTicks: Y10_TICKS, yLabels: Y10_LABELS, yMin: 0.631, yMax: 1.754, l: 707, t: 648, r: 1297, b: 867, colX: 653, yTitleX: 687, capX: 990, capY: 947 },
];

const CANVAS_W = 650;
const TOP_PAD = 15;
const X_AXIS_H = 22;

const framePlugin = {
  id: "frame",
  afterDraw(chart: any) {
    const { ctx, chartArea } = chart;
    const { left, top, right, bottom } = chartArea;
    ctx.save();
    ctx.strokeStyle = "#d2d2d2";
    ctx.lineWidth = 1.3;
    ctx.strokeRect(left, top, right - left, bottom - top);
    ctx.restore();
  },
};

function PanelChart({ p }: { p: Panel }) {
  const ref = useRef<HTMLCanvasElement | null>(null);
  const canvasTop = p.t - TOP_PAD;
  const canvasH = p.b + X_AXIS_H - canvasTop;
  useEffect(() => {
    if (!ref.current) return;
    const lh = FS * 1.2;
    const datasets = MODELS.map((m, i) => {
      const ys = p.series[i];
      const xs = ys === INDEX_AVG ? T_INDEX : T;
      return {
        label: m,
        data: xs.map((t, k) => ({ x: t, y: ys[k] })),
        borderColor: COLORS[i],
        backgroundColor: COLORS[i],
        borderWidth: 1.1,
        pointRadius: 0,
        tension: 0,
        fill: false,
      };
    });
    const chart = new Chart(ref.current, {
      type: "line",
      data: { datasets },
      plugins: [framePlugin],
      options: {
        animation: false,
        responsive: false,
        devicePixelRatio: 1,
        parsing: false as any,
        normalized: true,
        layout: { padding: { top: TOP_PAD, left: 0, bottom: 0, right: p.colX + CANVAS_W - p.r } },
        plugins: { legend: { display: false }, tooltip: { enabled: false }, title: { display: false } },
        scales: {
          x: {
            type: "linear",
            min: X_MIN,
            max: X_MAX,
            afterBuildTicks: (s: any) => { s.ticks = X_TICKS.map((v) => ({ value: v })); },
            afterFit: (s: any) => { s.height = X_AXIS_H; },
            ticks: {
              autoSkip: false, maxRotation: 0, padding: 2.5, color: TEXT,
              font: { family: SANS, size: FS },
              callback: (_v: any, i: number) => X_TICK_LABELS[i],
            },
            grid: { color: "#cbcbcb", lineWidth: 0.8, drawTicks: false },
            border: { display: false, dash: [2.6, 1.6] },
            title: { display: true, text: "Date", color: TEXT, font: { family: SANS, size: FS }, padding: { top: 0, bottom: X_AXIS_H - 15 - lh / 2 } },
          },
          y: {
            type: "linear",
            min: p.yMin,
            max: p.yMax,
            afterBuildTicks: (s: any) => { s.ticks = p.yTicks.map((v) => ({ value: v })); },
            afterFit: (s: any) => { s.width = p.l - p.colX; },
            ticks: {
              autoSkip: false, padding: 5, color: TEXT,
              font: { family: SANS, size: FS },
              callback: (_v: any, i: number) => p.yLabels[i],
            },
            grid: { color: "#cbcbcb", lineWidth: 0.8, drawTicks: false },
            border: { display: false, dash: [2.6, 1.6] },
            title: { display: true, text: "Cumulative Return", color: TEXT, font: { family: SANS, size: FS }, padding: { top: p.yTitleX - p.colX - lh / 2, bottom: 0 } },
          },
        },
      } as any,
    });
    return () => chart.destroy();
  }, [p]);

  const legendTop = p.b + 25.25;
  return (
    <>
      <canvas
        ref={ref}
        width={CANVAS_W}
        height={canvasH}
        style={{ position: "absolute", left: p.colX, top: canvasTop, width: CANVAS_W, height: canvasH }}
      />
      <div style={{ position: "absolute", left: p.l, top: legendTop, width: p.r - p.l, display: "flex", justifyContent: "center" }}>
        <div style={{ display: "grid", gridTemplateRows: "repeat(2, 9.5px)", gridAutoFlow: "column", columnGap: 13 }}>
          {MODELS.map((m, i) => (
            <div key={m} style={{ display: "flex", alignItems: "center", height: 9.5, whiteSpace: "nowrap" }}>
              <span style={{ display: "inline-block", width: 13, height: 2, background: COLORS[i], opacity: 0.75, marginRight: 5 }} />
              <span style={{ fontFamily: SANS, fontSize: FS, color: TEXT, lineHeight: "9.5px" }}>{m}</span>
            </div>
          ))}
        </div>
      </div>
      <div style={{ position: "absolute", left: p.capX - 200, top: p.capY - 13.6, width: 400, textAlign: "center", fontFamily: SERIF, fontSize: 23.7, lineHeight: "23.7px", color: "#000", whiteSpace: "nowrap" }}>
        {p.caption}
      </div>
    </>
  );
}

export default function App() {
  return (
    <div style={{ position: "absolute", left: 0, top: 0, width: 1303, height: 964, background: "#fff", overflow: "hidden" }}>
      {PANELS.map((p) => (
        <PanelChart key={p.caption} p={p} />
      ))}
    </div>
  );
}
